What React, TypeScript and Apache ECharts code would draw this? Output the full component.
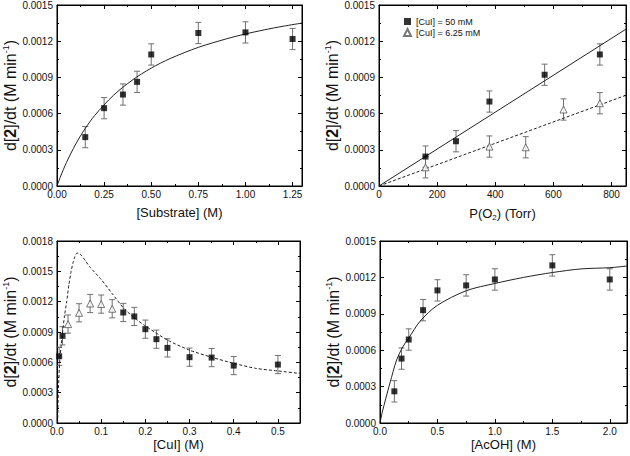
import React, { useEffect, useRef } from "react";
import * as echarts from "echarts";

const FONT = "Arial, 'Liberation Sans', Helvetica, sans-serif";

// Panel A: rate vs [Substrate]
const substrateX = [0.15, 0.25, 0.35, 0.425, 0.5, 0.75, 1.0, 1.25];
const substrateRate = [0.000405, 0.000645, 0.000758, 0.000863, 0.00109, 0.001268, 0.001273, 0.001218];
const substrateErr = [0.000088, 0.000088, 0.000088, 0.000088, 0.000088, 0.000088, 0.000088, 0.000088];
const substrateFitX = [0, 0.02, 0.05, 0.1, 0.15, 0.2, 0.3, 0.4, 0.5, 0.6, 0.75, 0.9, 1.0, 1.1, 1.2, 1.3];
const substrateFitY = [0, 0.000083, 0.000194, 0.000349, 0.000477, 0.000584, 0.000752, 0.000878, 0.000977, 0.001056, 0.001149, 0.00122, 0.00126, 0.001294, 0.001324, 0.00135];

// Panel B: rate vs P(O2)
const o2X50 = [160, 265, 380, 570, 760];
const o2Rate50 = [0.000244, 0.000371, 0.0007, 0.000922, 0.00109];
const o2Err50 = [0.000088, 0.000088, 0.000088, 0.000088, 0.000088];
const o2X625 = [160, 380, 505, 635, 760];
const o2Rate625 = [0.000155, 0.000327, 0.000321, 0.000634, 0.000686];
const o2Err625 = [0.000088, 0.000088, 0.000088, 0.000088, 0.000088];
const o2FitX = [0, 850];
const o2Fit50Y = [0, 0.0013];
const o2Fit625Y = [0, 0.000752];

// Panel C: rate vs [CuI]
const cuiSqX = [0.005, 0.0125, 0.15, 0.175, 0.2, 0.225, 0.25, 0.3, 0.35, 0.4, 0.5];
const cuiSqRate = [0.00066, 0.000862, 0.001093, 0.001054, 0.000928, 0.000829, 0.000743, 0.000651, 0.000647, 0.000568, 0.000578];
const cuiSqErr = [0.00009, 0.00009, 0.00009, 0.00009, 0.00009, 0.00009, 0.00009, 0.00009, 0.00009, 0.00009, 0.00009];
const cuiTriX = [0.025, 0.05, 0.075, 0.1, 0.125];
const cuiTriRate = [0.000978, 0.00109, 0.001182, 0.001176, 0.00113];
const cuiTriErr = [0.00009, 0.00009, 0.00009, 0.00009, 0.00009];
const cuiFitX = [0.0015, 0.003, 0.006, 0.0095, 0.0127, 0.017, 0.022, 0.027, 0.032, 0.036, 0.04, 0.043, 0.046, 0.05, 0.055, 0.065, 0.075, 0.1, 0.125, 0.15, 0.175, 0.2, 0.25, 0.3, 0.35, 0.4, 0.45, 0.5, 0.55];
const cuiFitY = [0, 0.0003, 0.0006, 0.00077, 0.0009, 0.00106, 0.0012, 0.00137, 0.0015, 0.00158, 0.00164, 0.00167, 0.00168, 0.001675, 0.00166, 0.0016, 0.00154, 0.00142, 0.00128, 0.00114, 0.00104, 0.00096, 0.00082, 0.00072, 0.00065, 0.00059, 0.00054, 0.000515, 0.00049];

// Panel D: rate vs [AcOH]
const acohX = [0.125, 0.1875, 0.25, 0.375, 0.5, 0.75, 1.0, 1.5, 2.0];
const acohRate = [0.000261, 0.000531, 0.000688, 0.00093, 0.001093, 0.001134, 0.001183, 0.001299, 0.001183];
const acohErr = [0.000088, 0.000088, 0.000088, 0.000088, 0.000088, 0.000088, 0.000088, 0.000088, 0.000088];
const acohFitX = [0, 0.02, 0.05, 0.087, 0.145, 0.2, 0.25, 0.35, 0.5, 0.75, 1.0, 1.25, 1.5, 1.75, 2.0, 2.15];
const acohFitY = [0, 0.00009, 0.0002, 0.00033, 0.00052, 0.00063, 0.0007, 0.00084, 0.00097, 0.00109, 0.00115, 0.0012, 0.00124, 0.00127, 0.00128, 0.001294];

const xTitles = ["{a|[Substrate] (M)}", "{a|P(O}{u|2}{a|) (Torr)}", "{a|[CuI] (M)}", "{a|[AcOH] (M)}"];
const yTitle = "{a|d[}{b|2}{a|]/dt (M min}{s|-1}{a|)}";
const legendNames = ["[CuI] = 50 mM", "[CuI] = 6.25 mM"];

const grids = [
  { left: 54, top: 5, width: 248, height: 181 },
  { left: 379, top: 5, width: 247, height: 181 },
  { left: 53, top: 241, width: 247, height: 182 },
  { left: 380, top: 241, width: 247, height: 182 },
];
const xCfg = [
  { min: 0, max: 1.3, interval: 0.25, dec: 2, gap: 18 },
  { min: 0, max: 850, interval: 200, dec: 0, gap: 19 },
  { min: 0, max: 0.55, interval: 0.1, dec: 1, gap: 13 },
  { min: 0, max: 2.15, interval: 0.5, dec: 1, gap: 13 },
];
const yCfg = [
  { min: 0, max: 0.0015, interval: 0.0003, gap: 29 },
  { min: 0, max: 0.0015, interval: 0.0003, gap: 36 },
  { min: 0, max: 0.0018, interval: 0.0003, gap: 30 },
  { min: 0, max: 0.0015, interval: 0.0003, gap: 36 },
];

const black = "#000";
const tick = { show: true, inside: true, length: 4, lineStyle: { color: black, width: 1 } };
const minorTick = { show: true, splitNumber: 2, length: 2, lineStyle: { color: black, width: 1 } };
const axisLine = { show: true, onZero: false, lineStyle: { color: black, width: 1 } };

const titleRich = {
  a: { fontSize: 13, fontFamily: FONT, color: "#111", lineHeight: 16 },
  u: { fontSize: 8, fontFamily: FONT, color: "#111", lineHeight: 8, verticalAlign: "bottom" },
};
const yRich = {
  a: { fontSize: 16, fontFamily: FONT, color: "#111", lineHeight: 19 },
  b: { fontSize: 16, fontFamily: FONT, color: "#111", fontWeight: "bold", lineHeight: 19 },
  s: { fontSize: 9, fontFamily: FONT, color: "#111", lineHeight: 8, verticalAlign: "top" },
};

function errData(xs: number[], ys: number[], es: number[]) {
  return xs.map((x, i) => [x, ys[i], es[i]]);
}
function pairs(xs: number[], ys: number[]) {
  return xs.map((x, i) => [x, ys[i]]);
}

const errRender = (params: any, api: any) => {
  const x = api.value(0);
  const y = api.value(1);
  const e = api.value(2);
  const hi = api.coord([x, y + e]);
  const lo = api.coord([x, y - e]);
  const hw = 3;
  const style = { stroke: "#707070", lineWidth: 1 };
  return {
    type: "group",
    children: [
      { type: "line", shape: { x1: hi[0], y1: hi[1], x2: lo[0], y2: lo[1] }, style },
      { type: "line", shape: { x1: hi[0] - hw, y1: hi[1], x2: hi[0] + hw, y2: hi[1] }, style },
      { type: "line", shape: { x1: lo[0] - hw, y1: lo[1], x2: lo[0] + hw, y2: lo[1] }, style },
    ],
  };
};

function errSeries(g: number, data: number[][]) {
  return {
    type: "custom",
    xAxisIndex: 2 * g,
    yAxisIndex: 2 * g,
    renderItem: errRender,
    data,
    encode: { x: 0, y: 1 },
    z: 2,
    silent: true,
  };
}
function sqSeries(g: number, name: string, data: number[][]) {
  return {
    type: "scatter",
    name,
    xAxisIndex: 2 * g,
    yAxisIndex: 2 * g,
    symbol: "rect",
    symbolSize: 6,
    itemStyle: { color: "#000" },
    data,
    z: 4,
  };
}
function triSeries(g: number, name: string, data: number[][]) {
  return {
    type: "scatter",
    name,
    xAxisIndex: 2 * g,
    yAxisIndex: 2 * g,
    symbol: "triangle",
    symbolSize: 7,
    itemStyle: { color: "#fff", borderColor: "#555", borderWidth: 1 },
    data,
    z: 4,
  };
}
function lineSeries(g: number, data: number[][], dashed: boolean, smooth: number) {
  return {
    type: "line",
    xAxisIndex: 2 * g,
    yAxisIndex: 2 * g,
    data,
    symbol: "none",
    smooth: smooth > 0 ? smooth : false,
    lineStyle: { color: "#222", width: 1, type: dashed ? [3, 2] : "solid" },
    z: 3,
    silent: true,
  };
}

export default function App() {
  const ref = useRef<HTMLDivElement>(null);
  useEffect(() => {
    if (!ref.current) return;
    const chart = echarts.init(ref.current, undefined, { renderer: "svg" });
    const xAxis: any[] = [];
    const yAxis: any[] = [];
    grids.forEach((_, g) => {
      const xc = xCfg[g];
      const yc = yCfg[g];
      const baseX = {
        type: "value",
        gridIndex: g,
        min: xc.min,
        max: xc.max,
        interval: xc.interval,
        splitLine: { show: false },
        axisLine,
        axisTick: tick,
        minorTick,
      };
      xAxis.push({
        ...baseX,
        position: "bottom",
        name: xTitles[g],
        nameLocation: "middle",
        nameGap: xc.gap,
        nameTextStyle: { rich: titleRich },
        axisLabel: {
          show: true,
          fontSize: 10,
          color: "#111",
          fontFamily: FONT,
          margin: 3,
          showMaxLabel: xc.max % xc.interval === 0 ? true : false,
          formatter: (v: number) => v.toFixed(xc.dec),
        },
      });
      xAxis.push({ ...baseX, position: "top", axisLabel: { show: false } });
      const baseY = {
        type: "value",
        gridIndex: g,
        min: yc.min,
        max: yc.max,
        interval: yc.interval,
        splitLine: { show: false },
        axisLine,
        axisTick: tick,
        minorTick,
      };
      yAxis.push({
        ...baseY,
        position: "left",
        name: yTitle,
        nameLocation: "middle",
        nameRotate: 90,
        nameGap: yc.gap,
        nameTextStyle: { rich: yRich },
        axisLabel: {
          show: true,
          fontSize: 10,
          color: "#111",
          fontFamily: FONT,
          margin: 4,
          formatter: (v: number) => v.toFixed(4),
        },
      });
      yAxis.push({ ...baseY, position: "right", axisLabel: { show: false } });
    });

    const series: any[] = [
      // Panel A
      errSeries(0, errData(substrateX, substrateRate, substrateErr)),
      lineSeries(0, pairs(substrateFitX, substrateFitY), false, 0.3),
      sqSeries(0, "Substrate", pairs(substrateX, substrateRate)),
      // Panel B
      errSeries(1, errData(o2X50, o2Rate50, o2Err50)),
      errSeries(1, errData(o2X625, o2Rate625, o2Err625)),
      lineSeries(1, pairs(o2FitX, o2Fit50Y), false, 0),
      lineSeries(1, pairs(o2FitX, o2Fit625Y), true, 0),
      sqSeries(1, legendNames[0], pairs(o2X50, o2Rate50)),
      triSeries(1, legendNames[1], pairs(o2X625, o2Rate625)),
      // Panel C
      errSeries(2, errData(cuiSqX, cuiSqRate, cuiSqErr)),
      errSeries(2, errData(cuiTriX, cuiTriRate, cuiTriErr)),
      lineSeries(2, pairs(cuiFitX, cuiFitY), true, 0.2),
      sqSeries(2, "CuI squares", pairs(cuiSqX, cuiSqRate)),
      triSeries(2, "CuI triangles", pairs(cuiTriX, cuiTriRate)),
      // Panel D
      errSeries(3, errData(acohX, acohRate, acohErr)),
      lineSeries(3, pairs(acohFitX, acohFitY), false, 0.3),
      sqSeries(3, "AcOH", pairs(acohX, acohRate)),
    ];

    chart.setOption({
      animation: false,
      backgroundColor: "#fff",
      grid: grids.map((g) => ({ ...g, show: true, borderColor: "#000", borderWidth: 1, backgroundColor: "transparent" })),
      xAxis,
      yAxis,
      legend: {
        data: legendNames,
        orient: "vertical",
        left: 403,
        top: 17,
        padding: 0,
        itemWidth: 7,
        itemHeight: 7,
        itemGap: 2,
        textStyle: { fontSize: 9, color: "#111", fontFamily: FONT },
        selectedMode: false,
      },
      series,
    });
    return () => chart.dispose();
  }, []);
  return (
    <div
      ref={ref}
      style={{ position: "absolute", left: 0, top: 0, width: 630, height: 456 }}
    />
  );
}
